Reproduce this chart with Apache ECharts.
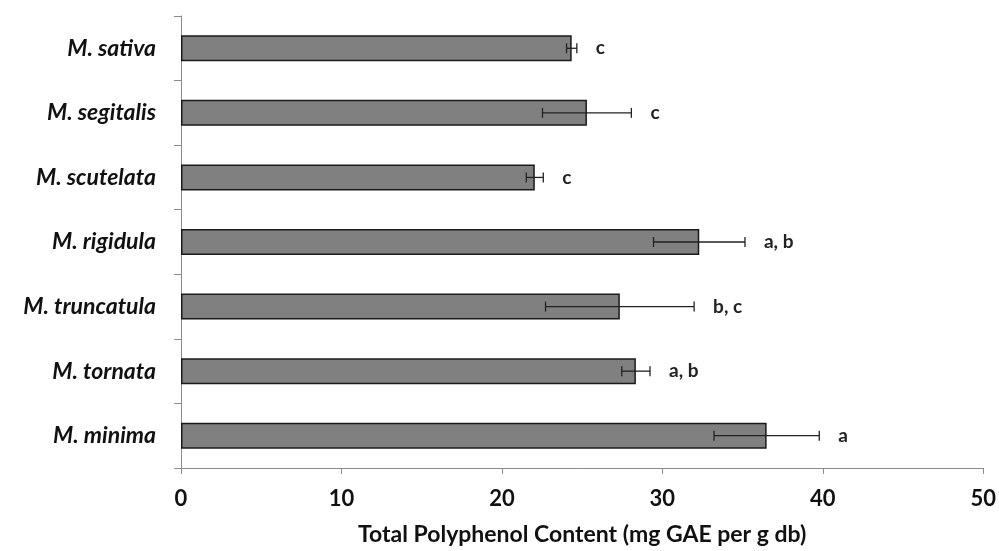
<!DOCTYPE html>
<html>
<head>
<meta charset="utf-8">
<script src="https://cdn.jsdelivr.net/npm/echarts@6/dist/echarts.min.js"></script>
<style>
  html, body { margin: 0; padding: 0; background: #fff; }
  #chart { width: 999px; height: 551px; }
</style>
</head>
<body>
<div id="chart"></div>
<script>
// species, top to bottom
const species = ['M. sativa', 'M. segitalis', 'M. scutelata', 'M. rigidula', 'M. truncatula', 'M. tornata', 'M. minima']
// mean total polyphenol content (mg GAE per g db)
const means = [24.35, 25.3, 22.05, 32.3, 27.35, 28.35, 36.5]
// error bar half-widths
const errs = [0.32, 2.77, 0.53, 2.85, 4.63, 0.88, 3.28]
// significance letters
const letters = ['c', 'c', 'c', 'a, b', 'b, c', 'a, b', 'a']
const xTicks = [0, 10, 20, 30, 40, 50]

const chart = echarts.init(document.getElementById('chart'))

const option = {
  backgroundColor: '#fff',
  animation: false,
  grid: {
    left: 181,
    right: 13,
    top: 16,
    bottom: 82
  },
  xAxis: {
    type: 'value',
    min: xTicks[0],
    max: xTicks[xTicks.length - 1],
    interval: 10,
    name: 'Total Polyphenol Content (mg GAE per g db)',
    nameLocation: 'middle',
    nameGap: 55,
    nameTextStyle: {
      fontFamily: 'Lato',
      fontWeight: 'bold',
      fontSize: 23,
      color: '#111'
    },
    splitLine: { show: false },
    axisLine: { show: true, lineStyle: { color: '#8c8c8c', width: 1 } },
    axisTick: { show: true, length: 6, lineStyle: { color: '#8c8c8c' } },
    axisLabel: {
      margin: 20,
      fontFamily: 'Lato',
      fontWeight: 'bold',
      fontSize: 22,
      color: '#111'
    }
  },
  yAxis: {
    type: 'category',
    inverse: true,
    data: species,
    axisLine: { show: true, lineStyle: { color: '#8c8c8c', width: 1 } },
    axisTick: { show: true, length: 7, lineStyle: { color: '#8c8c8c' } },
    axisLabel: {
      margin: 25,
      fontFamily: 'Lato',
      fontStyle: 'italic',
      fontWeight: 'bold',
      fontSize: 23,
      color: '#111'
    }
  },
  series: [
    {
      type: 'bar',
      data: means,
      barWidth: 26,
      itemStyle: {
        color: '#808080',
        borderColor: '#1a1a1a',
        borderWidth: 1.5
      }
    },
    {
      // error bars + letters
      type: 'custom',
      data: species.map((s, i) => [i, means[i], errs[i], letters[i]]),
      encode: { x: 1, y: 0 },
      z: 10,
      renderItem: function (params, api) {
        const i = api.value(0)
        const m = api.value(1)
        const e = api.value(2)
        const lo = api.coord([m - e, i])
        const hi = api.coord([m + e, i])
        const cap = 5
        const style = { stroke: '#222', lineWidth: 1.3 }
        return {
          type: 'group',
          children: [
            { type: 'line', shape: { x1: lo[0], y1: lo[1], x2: hi[0], y2: hi[1] }, style: style },
            { type: 'line', shape: { x1: lo[0], y1: lo[1] - cap, x2: lo[0], y2: lo[1] + cap }, style: style },
            { type: 'line', shape: { x1: hi[0], y1: hi[1] - cap, x2: hi[0], y2: hi[1] + cap }, style: style },
            {
              type: 'text',
              x: hi[0] + 19,
              y: hi[1],
              style: {
                text: letters[i],
                fontFamily: 'Lato',
                fontWeight: 'bold',
                fontSize: 19,
                fill: '#222',
                verticalAlign: 'middle',
                align: 'left'
              }
            }
          ]
        }
      }
    }
  ]
}

chart.setOption(option)
</script>
</body>
</html>
